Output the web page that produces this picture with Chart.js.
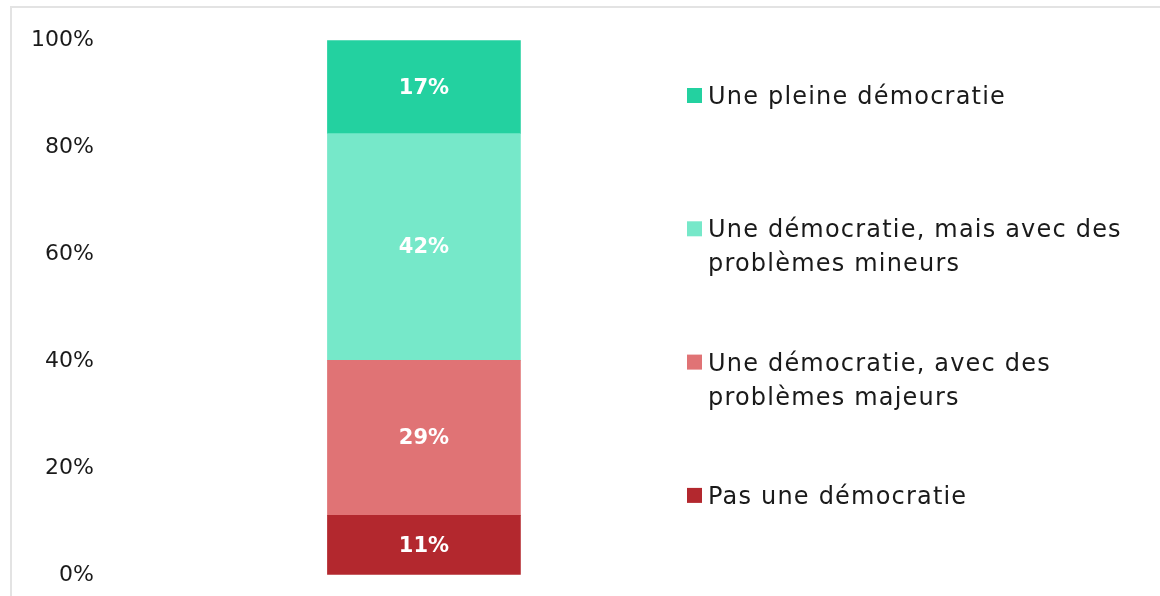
<!DOCTYPE html>
<html>
<head>
<meta charset="utf-8">
<script src="https://cdn.jsdelivr.net/npm/chart.js@4/dist/chart.umd.min.js"></script>
<style>
  html, body { margin: 0; padding: 0; background: #fff; overflow: hidden; }
  #wrap { position: relative; width: 1160px; height: 596px; }
  #frame { position: absolute; left: 10px; top: 6px; width: 1200px; height: 700px;
           border-top: 2px solid #e3e3e3; border-left: 2px solid #e3e3e3; }
  canvas { position: absolute; left: 0; top: 0; }
</style>
</head>
<body>
<div id="wrap">
  <div id="frame"></div>
  <canvas id="main-chart" width="1160" height="596"></canvas>
</div>
<script>
// data, bottom segment first
const categories  = [''];
const seriesNames = ['Pas une démocratie', 'Une démocratie, avec des problèmes majeurs', 'Une démocratie, mais avec des problèmes mineurs', 'Une pleine démocratie'];
const legendLines = [['Pas une démocratie'], ['Une démocratie, avec des', 'problèmes majeurs'], ['Une démocratie, mais avec des', 'problèmes mineurs'], ['Une pleine démocratie']];
const seriesVals  = [[11.1], [29.0], [42.4], [17.4]];
const barLabels   = ['11%', '29%', '42%', '17%'];
const yTicks      = [0, 20, 40, 60, 80, 100];
const colors      = ['#B3282E', '#E07375', '#76E8C9', '#23D1A0'];

const FONT = 'DejaVu Sans';
const tc = '#1a1a1a';

const barText = {
  id: 'barText',
  afterDatasetsDraw(chart) {
    const ctx = chart.ctx;
    ctx.save();
    ctx.fillStyle = '#fff';
    ctx.font = `bold 21px ${FONT}`;
    ctx.textAlign = 'center';
    ctx.textBaseline = 'middle';
    chart.data.datasets.forEach((ds, i) => {
      const bar = chart.getDatasetMeta(i).data[0];
      ctx.fillText(barLabels[i], bar.x, (bar.y + bar.base) / 2 + 1);
    });
    ctx.restore();
  }
};

// legend on the right, top item = last series
const sideLegend = {
  id: 'sideLegend',
  afterDraw(chart) {
    const ctx = chart.ctx;
    const x0 = 687, top0 = 88, step = 133.3, lineH = 34;
    ctx.save();
    ctx.font = `24px ${FONT}`;
    ctx.letterSpacing = '1.2px';
    ctx.textBaseline = 'alphabetic';
    for (let k = 0; k < seriesNames.length; k++) {
      const i = seriesNames.length - 1 - k;
      const y = top0 + k * step;
      ctx.fillStyle = colors[i];
      ctx.fillRect(x0, y, 15, 15);
      ctx.fillStyle = tc;
      legendLines[i].forEach((ln, j) => ctx.fillText(ln, x0 + 21, y + 16 + j * lineH));
    }
    ctx.restore();
  }
};

const chart = new Chart(document.getElementById('main-chart'), {
  type: 'bar',
  data: {
    labels: categories,
    datasets: seriesNames.map((n, i) => ({
      label: n,
      data: seriesVals[i],
      backgroundColor: colors[i],
      borderWidth: 0,
      barThickness: 193,
    }))
  },
  options: {
    responsive: false,
    animation: false,
    layout: { padding: { left: 23, right: 422, top: 40, bottom: 12 } },
    plugins: { legend: { display: false }, tooltip: { enabled: false } },
    scales: {
      x: { stacked: true, display: false },
      y: {
        stacked: true,
        min: 0, max: 100,
        afterBuildTicks: s => { s.ticks = yTicks.map(v => ({ value: v })); },
        grid: { display: false },
        border: { display: false },
        ticks: {
          color: tc, padding: 8,
          font: { family: FONT, size: 22 },
          callback: v => v + '%'
        }
      }
    }
  },
  plugins: [barText, sideLegend]
});
</script>
</body>
</html>
